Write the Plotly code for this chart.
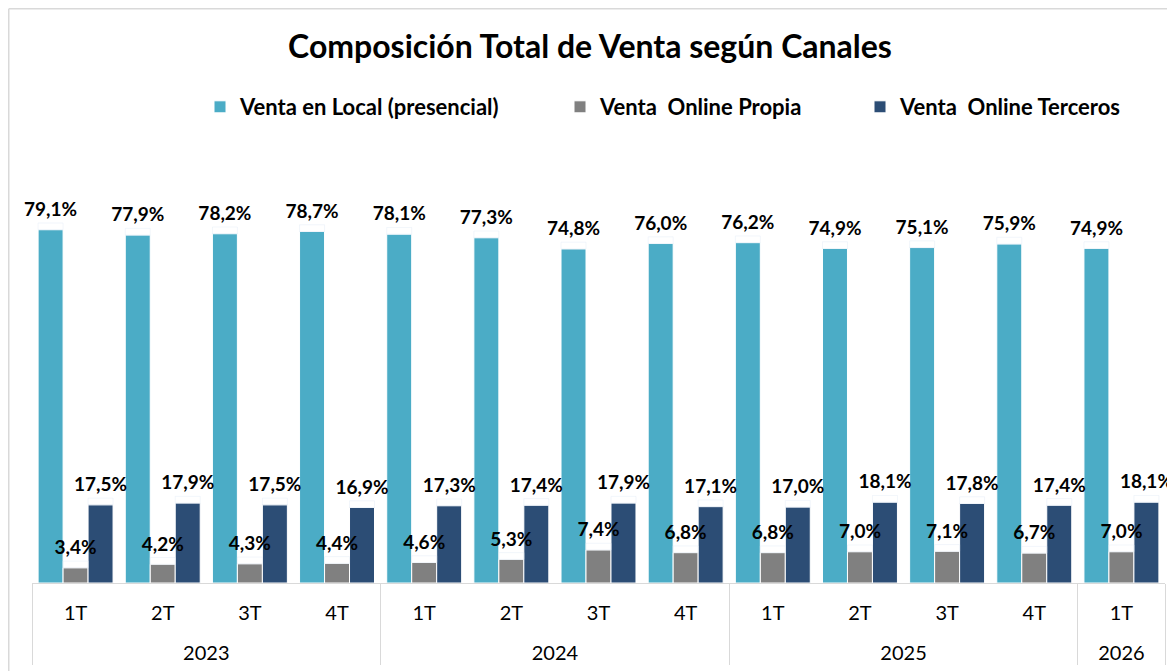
import plotly.graph_objects as go

years = ["2023"] * 4 + ["2024"] * 4 + ["2025"] * 4 + ["2026"]
quarters = ["1T", "2T", "3T", "4T"] * 3 + ["1T"]

local = [79.1, 77.9, 78.2, 78.7, 78.1, 77.3, 74.8, 76.0, 76.2, 74.9, 75.1, 75.9, 74.9]
propia = [3.4, 4.2, 4.3, 4.4, 4.6, 5.3, 7.4, 6.8, 6.8, 7.0, 7.1, 6.7, 7.0]
terceros = [17.5, 17.9, 17.5, 16.9, 17.3, 17.4, 17.9, 17.1, 17.0, 18.1, 17.8, 17.4, 18.1]

series = [
    ("Venta en Local (presencial)", local, "#4BACC6", "legend"),
    ("Venta  Online Propia", propia, "#808080", "legend2"),
    ("Venta  Online Terceros", terceros, "#2C4D75", "legend3"),
]

# year labels sit one line lower than the quarter labels
year_labels = ["<br>" + y for y in years]

# page body has an 8px margin; work in page coordinates and subtract it
OFF = 8
PAGE_W, PAGE_H = 1175, 671
W, H = PAGE_W - OFF, PAGE_H - OFF
ML, MR, MT, MB = 32 - OFF, PAGE_W - 1165, 181 - OFF, PAGE_H - 583
YMAX = 90
LABEL_PAD = 1.5

def fmt(v):
    return f"{v:.1f}%".replace(".", ",")

fig = go.Figure()
for i, (name, vals, color, lg) in enumerate(series):
    fig.add_trace(go.Bar(
        x=[year_labels, quarters], y=vals, name=name, legend=lg,
        marker=dict(color=color, line=dict(color="white", width=1)),
        offsetgroup=str(i), hoverinfo="skip",
    ))
for i, (name, vals, color, lg) in enumerate(series):
    fig.add_trace(go.Bar(
        x=[year_labels, quarters], y=[LABEL_PAD] * len(vals), base=vals,
        marker=dict(color="rgba(0,0,0,0)"),
        offsetgroup=str(i), showlegend=False, hoverinfo="skip",
        text=[fmt(v) for v in vals], textposition="outside",
        constraintext="none", cliponaxis=False,
        textfont=dict(family="Lato", size=19, color="#000000", weight="bold"),
    ))

pw = W - ML - MR
ph = H - MT - MB

def px_x(p):
    return (p - OFF - ML) / pw

def px_y(p):
    return (H - MB - (p - OFF)) / ph

legend_common = dict(orientation="h", yanchor="middle", xanchor="left",
                     font=dict(family="Lato", size=22, color="#000000", weight="bold"),
                     bgcolor="rgba(0,0,0,0)", itemclick=False)
leg_y = px_y(107)
fig.update_layout(
    legend=dict(x=px_x(200), y=leg_y, **legend_common),
    legend2=dict(x=px_x(560), y=leg_y, **legend_common),
    legend3=dict(x=px_x(860), y=leg_y, **legend_common),
)

fig.update_layout(
    width=W, height=H,
    margin=dict(l=ML, r=MR, t=MT, b=MB, autoexpand=False),
    paper_bgcolor="white", plot_bgcolor="white",
    barmode="group", bargap=0.14, bargroupgap=0,
    title=dict(text="<b>Composición Total de Venta según Canales</b>",
               x=(590 - OFF) / W, xref="container", xanchor="center",
               y=1 - (47 - OFF) / H, yref="container", yanchor="middle",
               font=dict(family="Lato", size=32, color="#000000")),
    xaxis=dict(type="multicategory", automargin=False,
               showline=True, linecolor="#d9d9d9", linewidth=1,
               showdividers=True, dividercolor="#d9d9d9", dividerwidth=1,
               ticks="", ticklabelstandoff=12, showgrid=False,
               tickfont=dict(family="Lato", size=20, color="#000000")),
    yaxis=dict(range=[0, YMAX], visible=False, automargin=False,
               showgrid=False, zeroline=False),
    shapes=[
        dict(type="line", xref="paper", yref="paper", x0=px_x(OFF + 0.75), x1=px_x(OFF + 0.75),
             y0=px_y(OFF + 0.75), y1=px_y(PAGE_H + 5), line=dict(color="#d9d9d9", width=1.5)),
        dict(type="line", xref="paper", yref="paper", x0=px_x(OFF + 0.75), x1=px_x(PAGE_W + 5),
             y0=px_y(OFF + 0.75), y1=px_y(OFF + 0.75), line=dict(color="#d9d9d9", width=1.5)),
    ],
)

fig.write_html("out.html")
